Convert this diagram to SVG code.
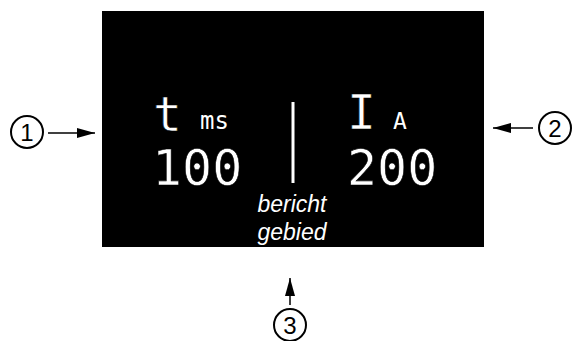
<svg xmlns="http://www.w3.org/2000/svg" width="572" height="341" viewBox="0 0 572 341">
<style>
.mono{font-family:"DejaVu Sans Mono",monospace;fill:#fff}
.big{stroke:#000;stroke-width:0.6}
.it{font-family:"Liberation Sans",Arial,sans-serif;font-style:italic;fill:#fff;font-size:23px;text-anchor:middle}
.cl{fill:none;stroke:#000;stroke-width:2}
.cn{font-family:"Liberation Sans",Arial,sans-serif;font-size:24px;fill:#000;text-anchor:middle}
.ln{stroke:#000;stroke-width:1.5}
</style>
<defs>
<marker id="ah" markerWidth="18" markerHeight="10" refX="18" refY="5" orient="auto" markerUnits="userSpaceOnUse">
<path d="M0,0 L18,5 L0,10 Z" fill="#000"/>
</marker>
</defs>
<g id="display">
<rect x="102" y="11" width="382" height="236" fill="#000"/>
<text class="mono big" x="153" y="131" font-size="48">t</text>
<text class="mono" x="200" y="129" font-size="24">ms</text>
<text class="mono big" x="152" y="185" font-size="50">100</text>
<line x1="293" y1="102" x2="293" y2="183" stroke="#fff" stroke-width="3"/>
<text class="mono big" x="347" y="129" font-size="48">I</text>
<text class="mono" x="393" y="129" font-size="23">A</text>
<text class="mono big" x="347" y="185" font-size="50">200</text>
<text class="it" x="292" y="212">bericht</text>
<text class="it" x="292" y="240">gebied</text>
</g>
<g id="n1">
<circle class="cl" cx="27" cy="132" r="16"/>
<text class="cn" x="27" y="141">1</text>
</g>
<g id="n2">
<circle class="cl" cx="555" cy="128" r="16"/>
<text class="cn" x="555" y="137">2</text>
</g>
<g id="n3">
<circle class="cl" cx="290" cy="325" r="16"/>
<text class="cn" x="290" y="334">3</text>
</g>
<g id="connectors">
<line class="ln" x1="48" y1="133" x2="95" y2="133" marker-end="url(#ah)"/>
<line class="ln" x1="533" y1="128" x2="493" y2="128" marker-end="url(#ah)"/>
<line class="ln" x1="290" y1="305" x2="290" y2="278" marker-end="url(#ah)"/>
</g>
</svg>
